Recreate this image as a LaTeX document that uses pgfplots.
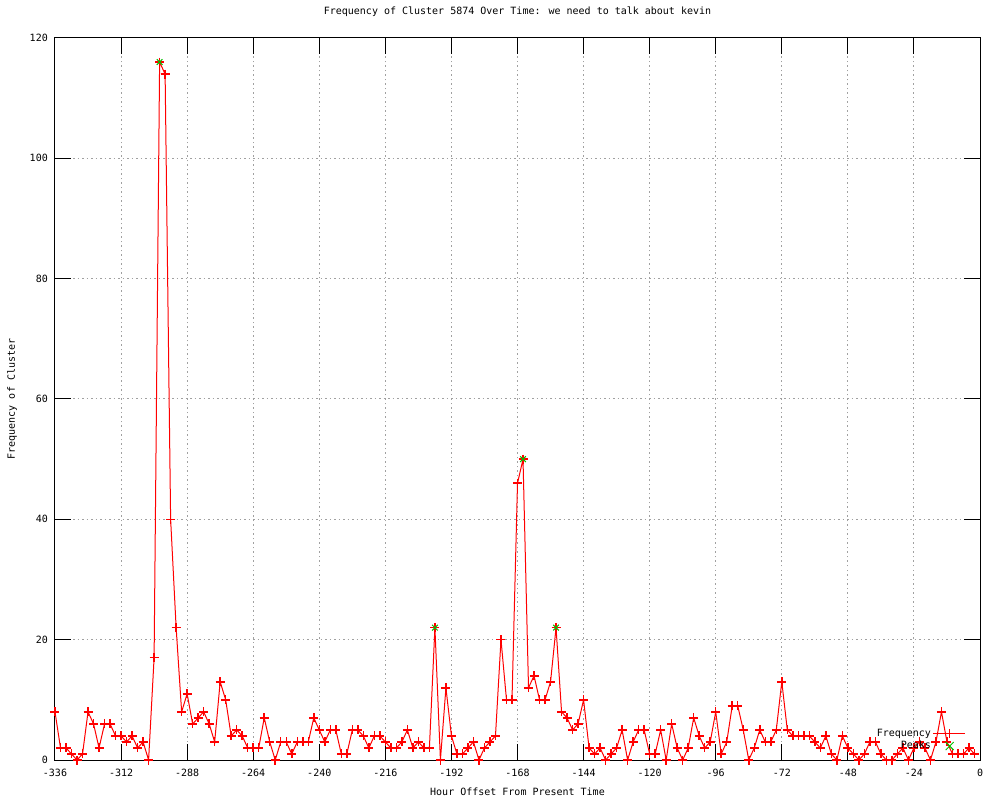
\documentclass[border=0pt]{standalone}
\usepackage{pgfplots}
\pgfplotsset{compat=1.18}
\usepackage{fontspec}
\setmainfont{DejaVu Sans Mono}
\definecolor{gpgreen}{RGB}{0,192,0}
\definecolor{gpgrid}{RGB}{160,160,160}

\pgfplotstableread{
x y
-336 8
-334 2
-332 2
-330 1
-328 0
-326 1
-324 8
-322 6
-320 2
-318 6
-316 6
-314 4
-312 4
-310 3
-308 4
-306 2
-304 3
-302 0
-300 17
-298 116
-296 114
-294 40
-292 22
-290 8
-288 11
-286 6
-284 7
-282 8
-280 6
-278 3
-276 13
-274 10
-272 4
-270 5
-268 4
-266 2
-264 2
-262 2
-260 7
-258 3
-256 0
-254 3
-252 3
-250 1
-248 3
-246 3
-244 3
-242 7
-240 5
-238 3
-236 5
-234 5
-232 1
-230 1
-228 5
-226 5
-224 4
-222 2
-220 4
-218 4
-216 3
-214 2
-212 2
-210 3
-208 5
-206 2
-204 3
-202 2
-200 2
-198 22
-196 0
-194 12
-192 4
-190 1
-188 1
-186 2
-184 3
-182 0
-180 2
-178 3
-176 4
-174 20
-172 10
-170 10
-168 46
-166 50
-164 12
-162 14
-160 10
-158 10
-156 13
-154 22
-152 8
-150 7
-148 5
-146 6
-144 10
-142 2
-140 1
-138 2
-136 0
-134 1
-132 2
-130 5
-128 0
-126 3
-124 5
-122 5
-120 1
-118 1
-116 5
-114 0
-112 6
-110 2
-108 0
-106 2
-104 7
-102 4
-100 2
-98 3
-96 8
-94 1
-92 3
-90 9
-88 9
-86 5
-84 0
-82 2
-80 5
-78 3
-76 3
-74 5
-72 13
-70 5
-68 4
-66 4
-64 4
-62 4
-60 3
-58 2
-56 4
-54 1
-52 0
-50 4
-48 2
-46 1
-44 0
-42 1
-40 3
-38 3
-36 1
-34 0
-32 0
-30 1
-28 2
-26 0
-24 2
-22 3
-20 2
-18 0
-16 3
-14 8
-12 3
-10 1
-8 1
-6 1
-4 2
-2 1
}\freqdata

\begin{document}
\begin{tikzpicture}[font=\fontsize{10pt}{12pt}\selectfont]
\useasboundingbox (-55pt,-40pt) rectangle (945pt,760pt);
\begin{axis}[
  at={(0pt,0pt)}, anchor=south west,
  scale only axis, width=925pt, height=722pt,
  xmin=-336, xmax=0, ymin=0, ymax=120,
  xtick={-336,-312,...,0}, ytick={0,20,...,120},
  tick align=inside, major tick length=16pt,
  every tick/.style={black, line width=1pt},
  axis line style={black, line width=1pt},
  grid=major,
  major grid style={gpgrid, line width=1pt, dash pattern=on 1.5pt off 3pt},
  /pgf/number format/assume math mode=true,
  /pgf/number format/1000 sep={},
  xticklabel style={anchor=center, yshift=-13pt},
  yticklabel style={anchor=east, inner sep=0pt, xshift=-7pt},
  title={Frequency of Cluster 5874 Over Time: we need to talk about kevin},
  title style={at={(axis description cs:0.5,1)}, anchor=center, yshift=20pt},
  xlabel={Hour Offset From Present Time},
  ylabel={Frequency of Cluster},
  every axis x label/.style={at={(axis description cs:0.5,0)}, anchor=center, yshift=-32pt},
  every axis y label/.style={at={(axis description cs:0,0.5)}, xshift=-43pt, rotate=90, anchor=center},
  clip=false,
  legend cell align=right, legend plot pos=right,
  legend style={at={(axis description cs:0.985,0.028)}, anchor=east, draw=none, fill=none,
    inner sep=0pt, row sep=0pt,
    nodes={inner sep=1.5pt, text height=7.5pt, text depth=2pt}},
]
% line and its marks are drawn separately
\addplot[red, line width=1pt, no marks,
  legend image code/.code={
    \draw[red, line width=1.5pt] (0pt,0pt) -- (32pt,0pt);
    \draw[red, line width=1.5pt] (12pt,0pt) -- (21pt,0pt) (16.5pt,-4.5pt) -- (16.5pt,4.5pt);}
  ] table[x=x, y=y] {\freqdata};
\addlegendentry{Frequency}
\addplot[red, only marks, mark=+, mark size=4.5pt, line width=1.5pt, forget plot]
  table[x=x, y=y] {\freqdata};
\addplot[gpgreen, only marks, mark=x, mark size=4pt, line width=1pt,
  legend image code/.code={
    \draw[gpgreen, line width=1pt] (12.5pt,-4pt) -- (20.5pt,4pt) (12.5pt,4pt) -- (20.5pt,-4pt);}
  ] coordinates {
(-298,116) (-198,22) (-166,50) (-154,22)
};
\addlegendentry{Peaks}
\end{axis}
\end{tikzpicture}
\end{document}
